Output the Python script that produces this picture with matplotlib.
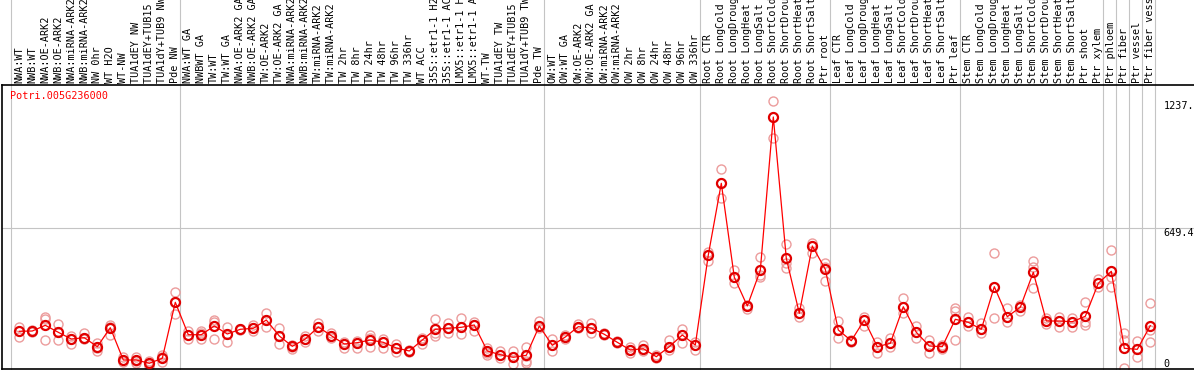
import matplotlib
matplotlib.use('Agg')
import matplotlib.pyplot as plt
import numpy as np

# 样本名称（按图中从左到右）
sample_labels = [
    'NWA:WT', 'NWB:WT', 'NWA:OE-ARK2', 'NWB:OE-ARK2', 'NWA:miRNA-ARK2', 'NWB:miRNA-ARK2',
    'NW 0hr', 'WT H2O', 'WT-NW', 'TUA1dEY NW', 'TUA1dEY+TUB15 NW', 'TUA1dY+TUB9 NW', 'Pde NW',
    'NWA:WT GA', 'NWBWT GA', 'TW:WT', 'TW:WT GA', 'NWA:OE-ARK2 GA', 'NWB:OE-ARK2 GA',
    'TW:OE-ARK2', 'TW:OE-ARK2 GA', 'NWA:miRNA-ARK2 GA', 'NWB:miRNA-ARK2 GA', 'TW:miRNA-ARK2',
    'TW:miRNA-ARK2 GA', 'TW 2hr', 'TW 8hr', 'TW 24hr', 'TW 48hr', 'TW 96hr', 'TW 336hr',
    'WT ACC', '35S::etr1-1 H2O', '35S::etr1-1 ACC', 'LMX5::etr1-1 H2O', 'LMX5::etr1-1 ACC',
    'WT-TW', 'TUA1dEY TW', 'TUA1dEY+TUB15 TW', 'TUA1dY+TUB9 TW', 'Pde TW',
    'OW:WT', 'OW:WT GA', 'OW:OE-ARK2', 'OW:OE-ARK2 GA', 'OW:miRNA-ARK2', 'OW:miRNA-ARK2 GA',
    'OW 2hr', 'OW 8hr', 'OW 24hr', 'OW 48hr', 'OW 96hr', 'OW 336hr',
    'Root CTR', 'Root LongCold', 'Root LongDrought', 'Root LongHeat', 'Root LongSalt',
    'Root ShortCold', 'Root ShortDrought', 'Root ShortHeat', 'Root ShortSalt', 'Ptr root',
    'Leaf CTR', 'Leaf LongCold', 'Leaf LongDrought', 'Leaf LongHeat', 'Leaf LongSalt',
    'Leaf ShortCold', 'Leaf ShortDrought', 'Leaf ShortHeat', 'Leaf ShortSalt', 'Ptr leaf',
    'Stem CTR', 'Stem LongCold', 'Stem LongDrought', 'Stem LongHeat', 'Stem LongSalt',
    'Stem ShortCold', 'Stem ShortDrought', 'Stem ShortHeat', 'Stem ShortSalt', 'Ptr shoot',
    'Ptr xylem', 'Ptr phloem', 'Ptr fiber', 'Ptr vessel', 'Ptr fiber vessel',
]

# 每组样本数（组之间画竖线）
group_sizes = [13, 28, 12, 10, 10, 11, 1, 1, 1, 1]

# 平均表达量
mean_expr = [
    172.7, 174.0, 200.4, 168.0, 137.0, 143.0, 101.4, 189.3, 39.8, 39.8, 24.5, 47.7, 306.9,
    156.9, 156.9, 197.2, 160.2, 181.9, 186.5, 225.0, 150.9, 103.2, 137.0, 192.6, 152.3,
    113.9, 119.9, 132.4, 121.7, 95.4, 81.5, 132.4, 181.9, 186.5, 191.2, 201.8, 81.5, 64.3,
    52.3, 61.6, 197.2,
    107.9, 146.3, 194.0, 187.9, 158.8, 121.7, 86.1, 92.1, 55.1, 101.4, 155.5, 109.2,
    525.9, 857.8, 422.6, 289.8, 455.0, 1164.7, 510.6, 256.0, 567.5, 459.7,
    178.7, 129.1, 225.0, 101.4, 117.1, 286.5, 168.0, 104.6, 101.4, 228.2,
    214.3, 181.9, 379.1, 240.2, 283.8, 445.8, 220.3, 220.3, 217.1, 242.1, 394.9,
    450.4, 94.0, 89.3, 198.6,
]

# 各生物学重复
replicates = [
    [194.0, 147.7, 172.7], [178.7, 174.0, 168.0], [240.2, 228.2, 132.4], [206.5, 168.0, 131.0],
    [150.9, 137.0, 112.5], [166.2, 140.3, 135.6], [119.9, 94.0, 82.9], [201.8, 194.0, 155.5],
    [52.3, 39.8, 30.6], [55.1, 36.6, 27.3], [36.6, 19.9, 12.0], [63.0, 52.3, 31.9],
    [356.0, 306.9, 251.4],
    [175.4, 156.9, 138.4], [175.4, 163.4, 135.6], [225.0, 217.1, 135.6], [194.0, 160.2, 121.7],
    [184.7, 181.9, 178.7], [201.8, 186.5, 174.0], [258.8, 225.0, 191.2], [186.5, 150.9, 113.9],
    [109.2, 98.6, 89.3], [152.3, 137.0, 124.5], [209.7, 191.2, 174.0], [163.4, 152.3, 140.3],
    [124.5, 113.9, 94.0], [129.1, 119.9, 94.0], [155.5, 140.3, 98.6], [135.6, 121.7, 94.0],
    [113.9, 95.4, 76.8], [86.1, 81.5, 78.2], [140.3, 132.4, 113.9], [228.2, 163.4, 150.9],
    [209.7, 186.5, 166.2], [232.8, 191.2, 160.2], [217.1, 201.8, 175.4], [94.0, 73.6, 63.0],
    [80.1, 64.3, 47.7], [82.9, 52.3, 21.3], [101.4, 58.3, 36.6, 27.3], [221.7, 197.2, 186.5],
    [135.6, 107.9, 82.9], [155.5, 146.3, 138.4], [206.5, 194.0, 186.5], [209.7, 187.9, 166.2],
    [163.4, 158.8, 154.1], [129.1, 121.7, 117.1], [101.4, 86.1, 70.8], [110.6, 92.1, 80.1],
    [63.0, 55.1, 49.1], [132.4, 101.4, 86.1], [181.9, 155.5, 117.1], [124.5, 109.2, 86.1],
    [541.1, 525.9, 499.5], [922.6, 857.8, 788.3], [456.4, 422.6, 397.6], [294.4, 289.8, 274.5],
    [515.2, 433.3, 425.4], [1237.0, 1164.7, 1066.1], [576.8, 487.4, 464.3], [279.1, 256.0, 237.5],
    [582.8, 567.5, 533.7], [490.2, 471.7, 406.9],
    [220.3, 178.7, 143.0], [132.4, 129.1, 124.5], [240.2, 225.0, 198.6], [124.5, 101.4, 70.8],
    [140.3, 117.1, 98.6], [325.4, 286.5, 258.8], [197.2, 168.0, 143.0], [132.4, 104.6, 70.8],
    [109.2, 101.4, 89.3], [281.9, 266.6, 132.4],
    [237.5, 214.3, 198.6], [209.7, 181.9, 166.2], [533.7, 379.1, 235.6], [281.9, 240.2, 217.1],
    [294.4, 283.8, 268.0], [499.5, 468.9, 371.7], [232.8, 220.3, 206.5], [240.2, 220.3, 191.2],
    [232.8, 217.1, 191.2], [306.9, 217.1, 201.8], [413.4, 394.9, 379.1],
    [549.0, 422.6, 379.1], [163.4, 132.4, 1.4], [129.1, 89.3, 52.3], [302.3, 178.7, 121.7],
]

gene_id = 'Potri.005G236000'
y_max_label = '1237.'
y_mid = 649.4

# 画布：按像素布置
W, H = 1194, 370
MONO = 'DejaVu Sans Mono'
FS = 7.3

fig = plt.figure(figsize=(W / 100, H / 100), dpi=100)
ax_top_px, ax_bot_px = 85, 368.6
ax = fig.add_axes([2 / W, (H - ax_bot_px) / H, (W - 2) / W, (ax_bot_px - ax_top_px) / H])

step = 13.0
x0_px = 19.3
ax.set_xlim((2 - x0_px) / step, (W - x0_px) / step)
ax.set_ylim(0, y_mid * 2 * (ax_bot_px - ax_top_px) / (ax_bot_px - 88))

x = np.arange(len(sample_labels))

# 组分隔竖线（延伸到标签区域）
bounds = np.concatenate([[0], np.cumsum(group_sizes)])
for b in bounds:
    ax.axvline(b - 0.638, ymin=0, ymax=ax_bot_px / (ax_bot_px - ax_top_px),
               color='#c4c4c4', lw=0.8, clip_on=False, zorder=0)
ax.axhline(y_mid, color='#c4c4c4', lw=0.8, zorder=0)

# 重复点
for i, reps in enumerate(replicates):
    ax.plot([i] * len(reps), reps, 'o', mfc='none', mec='#ec9c9c', ms=6.5, mew=1.0, zorder=2)

# 均值折线
ax.plot(x, mean_expr, '-', color='red', lw=0.9, zorder=3)
ax.plot(x, mean_expr, 'o', mfc='none', mec='#e00000', ms=6.5, mew=1.6, zorder=4)

# 顶部样本名
for i, lab in enumerate(sample_labels):
    ax.annotate(lab, xy=(i, 1), xycoords=('data', 'axes fraction'), xytext=(0, 2),
                textcoords='offset pixels', rotation=90, ha='center', va='bottom',
                fontsize=FS, family=MONO, annotation_clip=False)

# 右侧数值标注
ax.text(88.0, 1237, y_max_label, ha='left', va='top', fontsize=FS, family=MONO)
ax.text(88.0, y_mid, f'{y_mid}', ha='left', va='top', fontsize=FS, family=MONO)
ax.text(88.0, 0, '0', ha='left', va='bottom', fontsize=FS, family=MONO)

ax.text(8 / (W - 2), 1 - 6 / (ax_bot_px - ax_top_px), gene_id, transform=ax.transAxes,
        ha='left', va='top', color='red', fontsize=FS, family=MONO)

ax.set_xticks([])
ax.set_yticks([])
for side in ['top', 'left', 'bottom']:
    ax.spines[side].set_color('black')
    ax.spines[side].set_linewidth(1.2)
ax.spines['right'].set_visible(False)

fig.savefig('out.png', dpi=100)
